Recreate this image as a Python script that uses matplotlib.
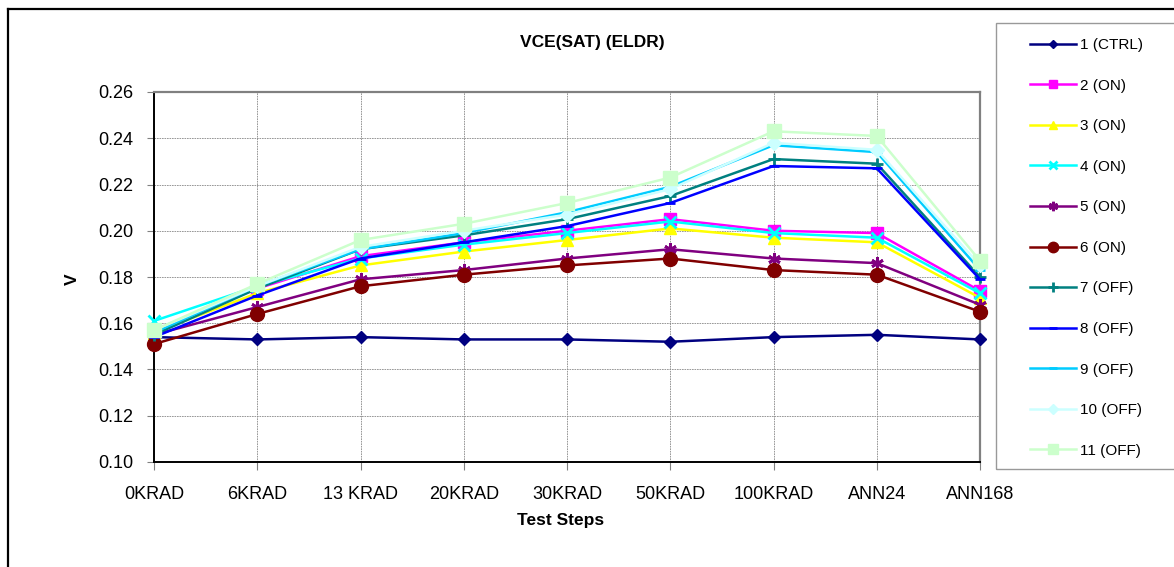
import matplotlib
matplotlib.use("Agg")
import matplotlib.pyplot as plt
from matplotlib.patches import Rectangle
from matplotlib.lines import Line2D

plt.rcParams['font.family'] = ['Liberation Sans', 'DejaVu Sans']

# ====== 数据 ======
steps = ["0KRAD", "6KRAD", "13 KRAD", "20KRAD", "30KRAD", "50KRAD", "100KRAD", "ANN24", "ANN168"]
labels = ["1 (CTRL)", "2 (ON)", "3 (ON)", "4 (ON)", "5 (ON)", "6 (ON)",
          "7 (OFF)", "8 (OFF)", "9 (OFF)", "10 (OFF)", "11 (OFF)"]

s1 = [0.154, 0.153, 0.154, 0.153, 0.153, 0.152, 0.154, 0.155, 0.153]
s2 = [0.157, 0.175, 0.189, 0.195, 0.200, 0.205, 0.200, 0.199, 0.174]
s3 = [0.156, 0.173, 0.185, 0.191, 0.196, 0.201, 0.197, 0.195, 0.171]
s4 = [0.161, 0.176, 0.188, 0.194, 0.199, 0.204, 0.199, 0.197, 0.173]
s5 = [0.155, 0.167, 0.179, 0.183, 0.188, 0.192, 0.188, 0.186, 0.168]
s6 = [0.151, 0.164, 0.176, 0.181, 0.185, 0.188, 0.183, 0.181, 0.165]
s7 = [0.155, 0.175, 0.192, 0.198, 0.205, 0.215, 0.231, 0.229, 0.180]
s8 = [0.154, 0.172, 0.188, 0.195, 0.202, 0.212, 0.228, 0.227, 0.179]
s9 = [0.156, 0.176, 0.192, 0.199, 0.208, 0.219, 0.237, 0.234, 0.183]
s10 = [0.157, 0.176, 0.193, 0.200, 0.207, 0.218, 0.238, 0.235, 0.185]
s11 = [0.157, 0.177, 0.196, 0.203, 0.212, 0.223, 0.243, 0.241, 0.187]
series = [s1, s2, s3, s4, s5, s6, s7, s8, s9, s10, s11]

colors = ["#000080", "#FF00FF", "#FFFF00", "#00FFFF", "#800080", "#800000",
          "#008080", "#0000FF", "#00CCFF", "#CCFFFF", "#CCFFCC"]
markers = ["D", "s", "^", "x", (6, 2, 0), "o", "+", "_", "_", "D", "s"]
msizes = [6, 8, 8, 8, 9, 10, 9, 7, 7, 7, 10]

# ====== 绘图 ======
fig = plt.figure(figsize=(11.74, 5.67), dpi=100)
ax = fig.add_axes([154/1174, 1-462/567, (980-154)/1174, (462-92)/567])

x = list(range(len(steps)))
for i, (ys, c, m, ms, lab) in enumerate(zip(series, colors, markers, msizes, labels)):
    ax.plot(x, ys, color=c, marker=m, markersize=ms, lw=1.8,
            markeredgewidth=2 if m in ("x", "+", "_", (6, 2, 0)) else 1,
            markeredgecolor=c, markerfacecolor=c, label=lab, zorder=3+i, clip_on=False)

ax.set_xlim(0, 8)
ax.set_ylim(0.10, 0.26)
ax.set_yticks([0.10, 0.12, 0.14, 0.16, 0.18, 0.20, 0.22, 0.24, 0.26])
ax.set_yticklabels([f"{v:.2f}" for v in ax.get_yticks()])
ax.set_xticks(x)
ax.set_xticklabels(steps)
ax.tick_params(axis="y", labelsize=13, length=5, color="#808080", pad=10)
ax.tick_params(axis="x", labelsize=13, length=6, color="#808080", pad=11)
ax.grid(True, color="#888888", lw=0.6, linestyle=(0, (2, 1)))
ax.set_axisbelow(True)
for side in ["left", "bottom"]:
    ax.spines[side].set_color("black")
    ax.spines[side].set_linewidth(1.4)
for side in ["top", "right"]:
    ax.spines[side].set_color("#808080")
    ax.spines[side].set_linewidth(1.6)

fig.text(592/1174, 1-42/567, "VCE(SAT) (ELDR)", fontsize=12.5, fontweight="bold",
         ha="center", va="center")
fig.text(561/1174, 1-521/567, "Test Steps", fontsize=12.5, fontweight="bold",
         ha="center", va="center")
fig.text(72/1174, 1-279/567, "V", fontsize=12.5, fontweight="bold",
         ha="center", va="center", rotation=90)

# 外框
fig.add_artist(Line2D([8/1174, 8/1174], [0, 1-9/567], color="black", lw=1.6,
                      transform=fig.transFigure))
fig.add_artist(Line2D([8/1174, 1], [1-9/567, 1-9/567], color="black", lw=1.6,
                      transform=fig.transFigure))

# 图例
fig.add_artist(Rectangle((996/1174, 1-469/567), 200/1174, (469-23)/567, fill=False,
                         edgecolor="#999999", lw=1.0, transform=fig.transFigure))
handles, labs = ax.get_legend_handles_labels()
fig.legend(handles, labs, loc="upper left", bbox_to_anchor=(1030/1174, 1-38/567),
           frameon=False, fontsize=11, handlelength=3.0, handletextpad=0.3,
           labelspacing=1.74, borderpad=0, borderaxespad=0, markerscale=0.75)

fig.savefig("out.png", dpi=100)
